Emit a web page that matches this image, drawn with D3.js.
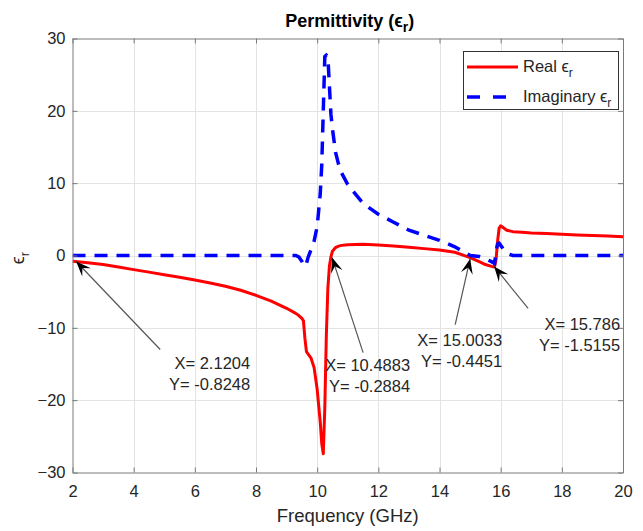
<!DOCTYPE html>
<html>
<head>
<meta charset="utf-8">
<script src="https://cdn.jsdelivr.net/npm/d3@7"></script>
<style>
  body { margin: 0; background: #fff; }
  svg { font-family: "Liberation Sans", Arial, Helvetica, sans-serif; }
</style>
</head>
<body>
<script>
// frequency samples (GHz)
const freq = [2, 2.5, 3, 3.5, 4, 4.5, 5, 5.5, 6, 6.5, 7, 7.5, 8, 8.5, 9, 9.3, 9.4, 9.5, 9.55, 9.6,
  9.65, 9.7, 9.8, 9.9, 10.0, 10.1, 10.15, 10.2, 10.25, 10.3, 10.35, 10.4, 10.45, 10.5, 10.6, 10.7,
  10.8, 11, 11.5, 12, 12.5, 13, 13.5, 14, 14.5, 15, 15.3, 15.5, 15.7, 15.8, 15.85, 15.9, 15.95, 16,
  16.1, 16.2, 16.4, 16.7, 17, 17.5, 18, 18.5, 19, 19.5, 20];

// real part of eps_r
const realEps = [-0.8, -1.0, -1.25, -1.6, -1.95, -2.3, -2.65, -3.0, -3.4, -3.8, -4.25, -4.8, -5.5, -6.3, -7.3, -8.0, -8.3, -8.7, -9.0, -11.5,
  -13.3, -13.6, -14.2, -15.5, -18.5, -23.0, -26.0, -27.4, -21.0, -11.0, -4.5, -1.5, -0.2, 0.6, 1.1, 1.3,
  1.4, 1.5, 1.55, 1.45, 1.3, 1.15, 0.95, 0.75, 0.45, -0.3, -0.85, -1.25, -1.5, -1.6, -0.5, 2.0, 3.8, 4.1,
  3.8, 3.5, 3.3, 3.2, 3.1, 3.05, 2.95, 2.85, 2.75, 2.68, 2.6];

// imaginary part of eps_r
const imagEps = [0, 0, 0, 0, 0, 0, 0, 0, 0, 0, 0, 0, 0, 0, 0, 0, -0.2, -0.8, -1.3, -1.5,
  -1.1, -0.3, 0.8, 2.0, 4.0, 8.5, 12.5, 20.0, 27.5, 27.7, 27.5, 23.5, 19.5, 17.5, 14.3, 12.6,
  11.4, 9.8, 7.2, 5.7, 4.6, 3.5, 2.8, 2.1, 1.2, 0.0, -0.15, -0.45, -0.85, -1.1, 0.6, 1.6, 1.7, 1.4,
  0.8, 0.3, 0.0, 0, 0, 0, 0, 0, 0, 0, 0];

const xTicks = [2, 4, 6, 8, 10, 12, 14, 16, 18, 20];
const yTicks = [-30, -20, -10, 0, 10, 20, 30];

// data tips
const tipX = [2.1204, 10.4883, 15.0033, 15.786];
const tipY = [-0.8248, -0.2884, -0.4451, -1.5155];
const tipXText = ["X= 2.1204", "X= 10.4883", "X= 15.0033", "X= 15.786"];
const tipYText = ["Y= -0.8248", "Y= -0.2884", "Y= -0.4451", "Y= -1.5155"];

// where each tip's tail and text sit, relative to the pointed point (px)
const tipLayout = [
  { tail: [84, 88], text: [174, 108] },
  { tail: [31, 95], text: [78, 113] },
  { tail: [-15, 66], text: [32, 87] },
  { tail: [34, 42], text: [126, 64] }
];

const w = 643;
const h = 531;
const padL = 72.5, padR = 623, padT = 38.5, padB = 472.5;
const axisColor = "#7a7a7a";
const textColor = "#262626";

const xScale = d3.scaleLinear().domain([2, 20]).range([padL, padR]);
const yScale = d3.scaleLinear().domain([-30, 30]).range([padB, padT]);

const svg = d3.select("body")
  .append("svg")
  .attr("width", w)
  .attr("height", h);

// grid
svg.append("g").selectAll("line")
  .data(xTicks.slice(1, -1))
  .enter().append("line")
  .attr("x1", d => Math.round(xScale(d)) + 0.5).attr("x2", d => Math.round(xScale(d)) + 0.5)
  .attr("y1", padT).attr("y2", padB)
  .attr("stroke", "#e3e3e3").attr("stroke-width", 1);

svg.append("g").selectAll("line")
  .data(yTicks.slice(1, -1))
  .enter().append("line")
  .attr("y1", d => Math.round(yScale(d)) + 0.5).attr("y2", d => Math.round(yScale(d)) + 0.5)
  .attr("x1", padL).attr("x2", padR)
  .attr("stroke", "#e3e3e3").attr("stroke-width", 1);

// curves
svg.append("clipPath").attr("id", "clip")
  .append("rect").attr("x", padL).attr("y", padT - 2)
  .attr("width", padR - padL).attr("height", padB - padT + 4);

const line = d3.line()
  .x((d, i) => xScale(freq[i]))
  .y(d => yScale(d));

svg.append("path")
  .datum(realEps)
  .attr("clip-path", "url(#clip)")
  .attr("d", line)
  .attr("fill", "none")
  .attr("stroke", "#ff0000")
  .attr("stroke-width", 3)
  .attr("stroke-linejoin", "round");

svg.append("path")
  .datum(imagEps)
  .attr("clip-path", "url(#clip)")
  .attr("d", line)
  .attr("fill", "none")
  .attr("stroke", "#0000ff")
  .attr("stroke-width", 3.5)
  .attr("stroke-dasharray", "13,9");

// axes
function styleAxis(g) {
  g.select(".domain").attr("stroke", axisColor);
  g.selectAll(".tick line").attr("stroke", axisColor);
  g.selectAll(".tick text").attr("fill", textColor).style("font-size", "16.5px");
  g.attr("font-family", null);
}

svg.append("g")
  .attr("transform", `translate(0, ${padB})`)
  .call(d3.axisBottom(xScale).tickValues(xTicks).tickSizeInner(-5).tickSizeOuter(0).tickPadding(13))
  .call(styleAxis);

svg.append("g")
  .attr("transform", `translate(${padL}, 0)`)
  .call(d3.axisLeft(yScale).tickValues(yTicks).tickSizeInner(-5).tickSizeOuter(0).tickPadding(7))
  .call(styleAxis);

svg.append("g")
  .attr("transform", `translate(0, ${padT})`)
  .call(d3.axisTop(xScale).tickValues(xTicks).tickSizeInner(-5).tickSizeOuter(0).tickFormat(""))
  .call(styleAxis);

svg.append("g")
  .attr("transform", `translate(${padR}, 0)`)
  .call(d3.axisRight(yScale).tickValues(yTicks).tickSizeInner(-5).tickSizeOuter(0).tickFormat(""))
  .call(styleAxis);

// titles
const title = svg.append("text")
  .attr("x", (padL + padR) / 2 + 2)
  .attr("y", 27)
  .attr("text-anchor", "middle")
  .attr("fill", "#000")
  .style("font-size", "18px")
  .style("font-weight", "bold");
title.append("tspan").text("Permittivity (");
title.append("tspan").text("\u03f5");
title.append("tspan").attr("dy", 5).style("font-size", "14px").text("r");
title.append("tspan").attr("dy", -5).text(")");

svg.append("text")
  .attr("x", (padL + padR) / 2)
  .attr("y", 522)
  .attr("text-anchor", "middle")
  .attr("fill", textColor)
  .style("font-size", "18.5px")
  .text("Frequency (GHz)");

const ytitle = svg.append("text")
  .attr("transform", "translate(24, 258) rotate(-90)")
  .attr("text-anchor", "middle")
  .attr("fill", textColor)
  .style("font-size", "18px");
ytitle.append("tspan").text("\u03f5");
ytitle.append("tspan").attr("dy", 5).style("font-size", "13px").text("r");

// legend
const legend = svg.append("g");
legend.append("rect")
  .attr("x", 463.5).attr("y", 51.5)
  .attr("width", 155).attr("height", 58)
  .attr("fill", "#fff")
  .attr("stroke", "#333")
  .attr("stroke-width", 1);

const legendItems = [
  { label: "Real ", color: "#ff0000", dash: null, width: 3 },
  { label: "Imaginary ", color: "#0000ff", dash: "13,13", width: 3.5 }
];
legendItems.forEach((item, i) => {
  const y = 67 + i * 30;
  legend.append("line")
    .attr("x1", 467).attr("x2", i === 0 ? 518 : 507)
    .attr("y1", y).attr("y2", y)
    .attr("stroke", item.color)
    .attr("stroke-width", item.width)
    .attr("stroke-dasharray", item.dash);
  const t = legend.append("text")
    .attr("x", 523).attr("y", y + 5)
    .attr("fill", textColor)
    .style("font-size", "16.5px");
  t.append("tspan").text(item.label + "\u03f5");
  t.append("tspan").attr("dy", 5).style("font-size", "12px").text("r");
});

// data tips with arrows
tipX.forEach((tx, i) => {
  const px = xScale(tx);
  const py = yScale(tipY[i]);
  const lay = tipLayout[i];
  const qx = px + lay.tail[0];
  const qy = py + lay.tail[1];

  svg.append("line")
    .attr("x1", qx).attr("y1", qy)
    .attr("x2", px).attr("y2", py)
    .attr("stroke", "#555")
    .attr("stroke-width", 1.2);

  // arrow head
  const len = Math.hypot(px - qx, py - qy);
  const ux = (px - qx) / len, uy = (py - qy) / len;
  const nx = -uy, ny = ux;
  const L = 15, W = 12;
  const pts = [
    [px, py],
    [px - L * ux + W / 2 * nx, py - L * uy + W / 2 * ny],
    [px - 0.6 * L * ux, py - 0.6 * L * uy],
    [px - L * ux - W / 2 * nx, py - L * uy - W / 2 * ny]
  ];
  svg.append("polygon")
    .attr("points", pts.map(p => p.join(",")).join(" "))
    .attr("fill", "#000");

  const tx0 = px + lay.text[0];
  const ty0 = py + lay.text[1];
  svg.append("text")
    .attr("x", tx0).attr("y", ty0)
    .attr("text-anchor", "end")
    .attr("fill", textColor)
    .style("font-size", "16.5px")
    .text(tipXText[i]);
  svg.append("text")
    .attr("x", tx0).attr("y", ty0 + 21)
    .attr("text-anchor", "end")
    .attr("fill", textColor)
    .style("font-size", "16.5px")
    .text(tipYText[i]);
});
</script>
</body>
</html>
